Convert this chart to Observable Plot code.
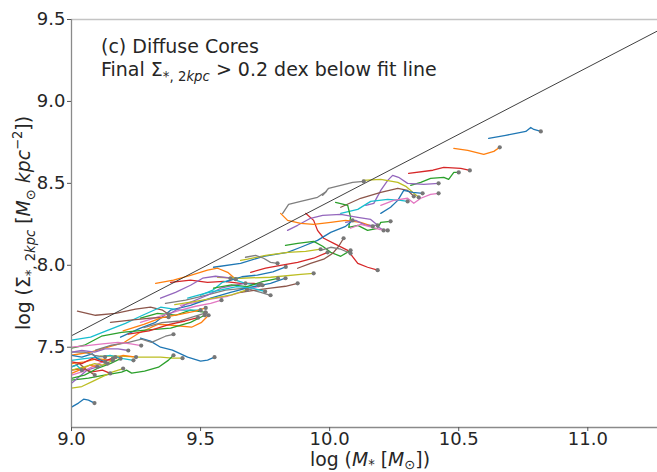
<!DOCTYPE html>
<html>
<head>
<meta charset="utf-8">
<script src="https://cdn.jsdelivr.net/npm/d3@7"></script>
<script src="https://cdn.jsdelivr.net/npm/@observablehq/plot@0.6"></script>
<style>
  html, body { margin: 0; padding: 0; background: #fff; }
  #chart svg { display: block; }
</style>
</head>
<body>
<div id="chart"></div>
<script>
// ---- data ----
const xDomain = [9.0, 11.27];
const yDomain = [7.01, 9.5];
const xTicks = [9.0, 9.5, 10.0, 10.5, 11.0];
const yTicks = [7.5, 8.0, 8.5, 9.0, 9.5];

// fit line endpoints
const fitX = [9.0, 11.27];
const fitY = [7.57, 9.43];

// colour cycle ids (matplotlib tab10)
const colorIds = ["C0","C1","C2","C3","C4","C5","C6","C7","C8","C9"];
const tab10 = ["#1f77b4","#ff7f0e","#2ca02c","#d62728","#9467bd","#8c564b","#e377c2","#7f7f7f","#bcbd22","#17becf"];

// evolutionary tracks: colour, log M*, log Sigma_2kpc (last point = final state)
const trackColor = [
  "C0","C1","C3","C2","C4","C8","C7","C5","C9","C0",
  "C6","C3","C2","C4","C0","C8","C2","C7","C5","C3",
  "C1","C1","C3","C8","C9","C4","C6","C7","C0","C2",
  "C5","C9","C0","C8","C2","C0","C1","C2","C7","C3",
  "C1","C9","C4","C8","C6","C0","C5","C2","C7","C1",
  "C3","C4","C8","C9","C6","C6","C4","C5","C5","C7",
  "C4","C6","C2","C0","C9","C8","C1","C7","C3"
];
const trackX = [
  [10.616,10.682,10.721,10.760,10.779,10.791,10.818],
  [10.481,10.535,10.597,10.636,10.659],
  [10.306,10.40,10.442,10.508,10.543],
  [10.314,10.353,10.391,10.442,10.461,10.481,10.50],
  [10.140,10.171,10.198,10.225,10.244,10.267,10.302,10.364,10.422],
  [10.128,10.198,10.264,10.295,10.326,10.345],
  [9.818,9.841,9.888,9.953,9.988,9.973,9.996,10.043,10.089,10.132],
  [10.043,10.120,10.198,10.264,10.302,10.326],
  [10.043,10.109,10.159,10.225,10.275,10.302],
  [10.198,10.236,10.264,10.287,10.322,10.360],
  [10.198,10.248,10.302,10.326,10.353,10.391,10.422],
  [9.907,9.938,9.953,9.977,10.016,10.070,10.109,10.147,10.186],
  [10.023,10.070,10.081,10.074,10.109,10.147,10.186,10.198,10.236],
  [9.837,9.876,9.926,9.973,10.043,10.109,10.159,10.186],
  [9.550,9.655,9.744,9.837,9.888,9.953,10.004,10.062,10.089],
  [9.655,9.682,9.752,9.837,9.907,9.965],
  [9.829,9.876,9.938,9.973,10.004,10.043,10.081],
  [9.674,9.713,9.744,9.771,9.798],
  [9.876,9.926,9.977,10.012,10.035,10.054],
  [9.694,9.752,9.810,9.876,9.938,9.992],
  [9.810,9.837,9.888,9.938,10.004,10.062,10.120,10.167],
  [9.326,9.395,9.461,9.527,9.566,9.605,9.636],
  [9.384,9.461,9.527,9.589,9.655,9.705,9.733],
  [9.566,9.655,9.771,9.888,9.938],
  [9.50,9.547,9.585,9.624,9.674,9.725],
  [9.345,9.403,9.461,9.508,9.558,9.616],
  [9.422,9.481,9.539,9.605,9.655,9.702,9.740],
  [9.364,9.442,9.519,9.597,9.674,9.733,9.771],
  [9.190,9.267,9.326,9.384,9.461,9.539,9.616,9.694,9.771,9.829],
  [9.267,9.333,9.403,9.461,9.519],
  [9.023,9.093,9.171,9.248,9.306,9.353,9.376],
  [9.0,9.074,9.132,9.209,9.267,9.345,9.422,9.50],
  [9.267,9.306,9.345,9.391,9.450,9.50,9.527,9.554],
  [9.112,9.190,9.260,9.345,9.391,9.430],
  [9.0,9.066,9.128,9.194,9.213,9.233,9.283,9.337,9.376,9.395],
  [9.0,9.027,9.047,9.066,9.089],
  [9.0,9.074,9.128,9.205,9.260,9.310,9.337,9.388,9.465,9.504,9.531],
  [9.0,9.050,9.116,9.194,9.287,9.384,9.461,9.516],
  [9.093,9.155,9.221,9.271,9.310,9.364,9.395],
  [9.0,9.04,9.08,9.12,9.15],
  [9.0,9.05,9.10,9.15,9.20,9.25],
  [9.0,9.05,9.10,9.15,9.20,9.24],
  [9.0,9.03,9.06,9.10,9.14],
  [9.0,9.04,9.08,9.12,9.16,9.20],
  [9.0,9.04,9.08,9.12,9.16],
  [9.0,9.04,9.08,9.10,9.13],
  [9.0,9.03,9.06,9.09],
  [9.0,9.05,9.10,9.15,9.19],
  [9.0,9.05,9.09,9.13],
  [9.0,9.03,9.07,9.10],
  [9.0,9.04,9.08,9.12,9.17],
  [9.0,9.04,9.09,9.13,9.18,9.22],
  [9.0,9.05,9.09,9.12,9.16],
  [9.0,9.02,9.04],
  [9.0,9.06,9.12,9.18,9.23,9.27],
  [9.267,9.345,9.422,9.481,9.539,9.581],
  [9.384,9.450,9.527,9.578,9.628,9.674],
  [9.151,9.229,9.306,9.376],
  [9.655,9.713,9.771,9.829,9.876],
  [9.965,10.004,10.043,10.081],
  [10.062,10.101,10.140,10.178,10.209],
  [10.081,10.120,10.151,10.190,10.225],
  [9.55,9.62,9.68,9.74,9.80],
  [9.60,9.66,9.72,9.78,9.83],
  [9.45,9.52,9.58,9.64,9.70,9.75],
  [9.40,9.48,9.55,9.62,9.68],
  [9.20,9.28,9.35,9.42,9.48,9.52],
  [9.28,9.35,9.42,9.48,9.52],
  [9.22,9.30,9.38,9.44,9.49]
];
const trackY = [
  [8.774,8.793,8.805,8.817,8.841,8.829,8.817],
  [8.713,8.701,8.677,8.695,8.720],
  [8.561,8.58,8.598,8.591,8.579],
  [8.488,8.506,8.530,8.537,8.524,8.567,8.567],
  [8.366,8.378,8.457,8.518,8.549,8.537,8.50,8.494,8.50],
  [8.518,8.524,8.506,8.482,8.439,8.415],
  [8.317,8.372,8.390,8.415,8.451,8.427,8.470,8.488,8.506,8.512],
  [8.354,8.409,8.445,8.470,8.457,8.421],
  [8.317,8.341,8.390,8.402,8.396,8.390],
  [8.317,8.354,8.396,8.457,8.445,8.439],
  [8.366,8.396,8.409,8.378,8.409,8.433,8.439],
  [8.317,8.274,8.213,8.165,8.134,8.091,8.012,7.988,7.970],
  [8.384,8.366,8.293,8.232,8.244,8.213,8.226,8.262,8.268],
  [8.213,8.244,8.287,8.305,8.311,8.293,8.280,8.244],
  [7.988,8.012,8.055,8.079,8.110,8.152,8.201,8.238,8.274],
  [8.030,8.037,8.061,8.079,8.085,8.098],
  [8.122,8.134,8.146,8.116,8.079,8.055,8.091],
  [8.049,8.061,8.043,8.018,8.012],
  [7.982,8.012,8.037,8.073,8.116,8.165],
  [7.957,7.982,8.0,8.018,8.043,8.079],
  [8.317,8.274,8.256,8.250,8.262,8.274,8.262,8.238],
  [7.890,7.909,7.939,7.970,7.982,7.957,7.915],
  [7.896,7.909,7.896,7.902,7.890,7.890,7.884],
  [7.927,7.921,7.927,7.945,7.951],
  [7.817,7.848,7.896,7.915,7.890,7.878],
  [7.799,7.835,7.878,7.921,7.933,7.921],
  [7.756,7.774,7.793,7.811,7.835,7.860,7.878],
  [7.768,7.787,7.817,7.848,7.860,7.835,7.817],
  [7.561,7.616,7.652,7.726,7.756,7.799,7.835,7.866,7.890,7.921],
  [7.677,7.707,7.695,7.726,7.713],
  [7.720,7.695,7.707,7.732,7.744,7.726,7.701],
  [7.543,7.561,7.598,7.646,7.689,7.744,7.726,7.726],
  [7.555,7.537,7.500,7.482,7.439,7.415,7.421,7.439],
  [7.445,7.445,7.439,7.439,7.433,7.433],
  [7.299,7.311,7.329,7.348,7.360,7.342,7.354,7.378,7.421,7.451],
  [7.134,7.159,7.183,7.177,7.159],
  [7.451,7.470,7.494,7.530,7.585,7.622,7.640,7.634,7.622,7.652,7.695],
  [7.494,7.512,7.567,7.591,7.604,7.616,7.652,7.695],
  [7.482,7.512,7.530,7.549,7.530,7.567,7.579],
  [7.36,7.37,7.35,7.36,7.34],
  [7.40,7.41,7.43,7.42,7.45,7.44],
  [7.42,7.43,7.44,7.45,7.43,7.42],
  [7.28,7.32,7.36,7.38,7.40],
  [7.25,7.26,7.29,7.32,7.35,7.37],
  [7.33,7.35,7.38,7.41,7.43],
  [7.45,7.44,7.46,7.43,7.41],
  [7.38,7.40,7.36,7.33],
  [7.31,7.33,7.37,7.40,7.43],
  [7.47,7.47,7.45,7.44],
  [7.34,7.36,7.39,7.38],
  [7.41,7.40,7.43,7.41,7.44],
  [7.47,7.48,7.47,7.49,7.49,7.48],
  [7.36,7.38,7.40,7.39,7.42],
  [7.38,7.39,7.36],
  [7.50,7.51,7.52,7.53,7.52,7.51],
  [7.652,7.689,7.726,7.750,7.768,7.787],
  [7.707,7.768,7.817,7.860,7.878,7.890],
  [7.652,7.665,7.677,7.683],
  [7.835,7.848,7.860,7.872,7.890],
  [8.091,8.110,8.098,8.073],
  [8.262,8.274,8.244,8.244,8.213],
  [8.226,8.250,8.238,8.220,8.213],
  [7.86,7.88,7.87,7.90,7.92],
  [7.90,7.93,7.94,7.96,7.99],
  [7.80,7.83,7.85,7.87,7.86,7.84],
  [7.76,7.78,7.80,7.82,7.85],
  [7.60,7.64,7.68,7.70,7.72,7.74],
  [7.62,7.65,7.66,7.69,7.71],
  [7.58,7.60,7.64,7.66,7.68]
];

// ---- build tables ----
const rows = [];
const ends = [];
trackX.forEach((xs, i) => {
  xs.forEach((x, j) => rows.push({track: i, color: trackColor[i], x, y: trackY[i][j]}));
  ends.push({x: xs[xs.length - 1], y: trackY[i][xs.length - 1]});
});
const fitRows = fitX.map((x, i) => ({x, y: fitY[i]}));

const W = 657, H = 472, mL = 71, mR = 0, mT = 19, mB = 45;
const FONT = "'DejaVu Sans', sans-serif";

const chart = Plot.plot({
  width: W, height: H,
  marginLeft: mL, marginRight: mR, marginTop: mT, marginBottom: mB,
  style: {fontFamily: FONT, fontSize: "18px", color: "#262626", background: "#fff", overflow: "visible"},
  x: {domain: xDomain},
  y: {domain: yDomain},
  color: {domain: colorIds, range: tab10},
  marks: [
    Plot.line(rows, {x: "x", y: "y", z: "track", stroke: "color", strokeWidth: 1.3, clip: true}),
    Plot.line(fitRows, {x: "x", y: "y", stroke: "#2a2a2a", strokeWidth: 0.9, clip: true}),
    Plot.dot(ends, {x: "x", y: "y", r: 2.1, fill: "#777", stroke: "none"}),
    Plot.ruleY([yDomain[1]], {stroke: "#c4c4c4", strokeWidth: 1.6}),
    Plot.ruleX([xDomain[0]], {stroke: "#8a8a8a", strokeWidth: 1.3}),
    Plot.ruleY([yDomain[0]], {stroke: "#8a8a8a", strokeWidth: 1.3}),
    Plot.axisX({ticks: xTicks, tickFormat: d3.format(".1f"), tickSize: 4, tickPadding: 1, label: null, stroke: "#555"}),
    Plot.axisY({ticks: yTicks, tickFormat: d3.format(".1f"), tickSize: 4, tickPadding: 2, label: null, stroke: "#555"})
  ]
});
document.getElementById("chart").appendChild(chart);

// ---- text with math sub/superscripts ----
const svg = d3.select(chart);
function mathText(sel, parts, size, subDrop = 0.28) {
  let cur = 0;
  parts.forEach(p => {
    const shift = p.sub ? size * subDrop : p.sup ? -size * 0.42 : 0;
    const t = sel.append("tspan").text(p.t);
    if (p.sub || p.sup) t.attr("font-size", size * 0.7);
    if (p.i) t.attr("font-style", "italic");
    if (shift !== cur) t.attr("dy", shift - cur);
    cur = shift;
  });
}
const g = svg.append("g").attr("fill", "#262626").attr("font-family", FONT);

// annotation (top-left inside axes)
const annSize = 19;
const a1 = g.append("text").attr("x", mL + 30).attr("y", 53).attr("text-anchor", "start").attr("font-size", annSize);
mathText(a1, [{t: "(c) Diffuse Cores"}], annSize);
const a2 = g.append("text").attr("x", mL + 30).attr("y", 76).attr("text-anchor", "start").attr("font-size", annSize);
mathText(a2, [
  {t: "Final Σ"}, {t: "*, 2", sub: true}, {t: "kpc", sub: true, i: true},
  {t: " > 0.2 dex below fit line"}
], annSize);

// x axis label
const labSize = 18.8;
const xl = g.append("text").attr("x", 370).attr("y", 466).attr("text-anchor", "middle").attr("font-size", labSize);
mathText(xl, [
  {t: "log ("}, {t: "M", i: true}, {t: "*", sub: true}, {t: " ["}, {t: "M", i: true},
  {t: "⊙", sub: true}, {t: "])"}
], labSize, 0.15);

// y axis label (rotated)
const yl = g.append("text").attr("transform", `translate(30,${(mT + (H - mB)) / 2}) rotate(-90)`)
  .attr("text-anchor", "middle").attr("font-size", labSize);
mathText(yl, [
  {t: "log (Σ"}, {t: "*, 2", sub: true}, {t: "kpc", sub: true, i: true}, {t: " ["},
  {t: "M", i: true}, {t: "⊙", sub: true}, {t: " "}, {t: "kpc", i: true}, {t: "−2", sup: true}, {t: "])"}
], labSize);
</script>
</body>
</html>
